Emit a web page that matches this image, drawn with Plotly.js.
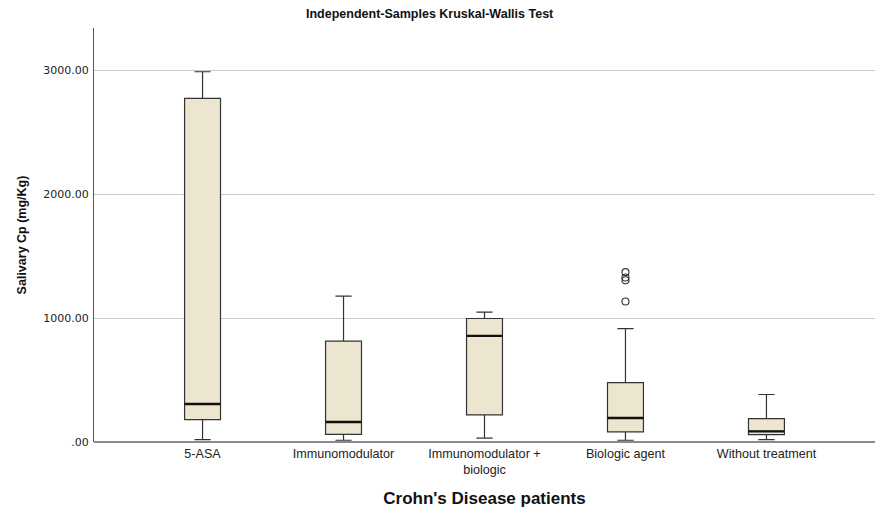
<!DOCTYPE html>
<html>
<head>
<meta charset="utf-8">
<script src="https://cdn.plot.ly/plotly-3.0.1.min.js"></script>
<style>html,body{margin:0;padding:0;background:#fff;}#chart{width:875px;height:517px;}</style>
</head>
<body>
<div id="chart"></div>
<script>
const categories = ["5-ASA", "Immunomodulator", "Immunomodulator +<br>biologic", "Biologic agent", "Without treatment"];
const lowerWhisker = [19, 14, 32, 14, 19];
const q1Values = [181, 62, 218, 81, 60];
const medianValues = [307, 161, 856, 194, 86];
const q3Values = [2772, 813, 996, 479, 189];
const upperWhisker = [2986, 1176, 1047, 915, 383];
const outlierGroup = [3, 3, 3, 3];
const outlierValues = [1370, 1327, 1305, 1133];
const yTickValues = [0, 1000, 2000, 3000];
const yTickLabels = [".00", "1000.00", "2000.00", "3000.00"];

const positions = categories.map((c, i) => i);
const boxWidth = 0.255;
const fontFam = '"Liberation Sans", Arial, Helvetica, sans-serif';
const tickFam = '"DejaVu Sans", Verdana, sans-serif';

const boxTrace = {
  type: 'box',
  x: positions,
  q1: q1Values,
  median: medianValues,
  q3: q3Values,
  lowerfence: lowerWhisker,
  upperfence: upperWhisker,
  width: boxWidth,
  whiskerwidth: 0.45,
  boxpoints: false,
  fillcolor: '#ECE5D0',
  line: {color: '#333333', width: 1.2},
  hoverinfo: 'skip',
  showlegend: false
};

const mx = [], my = [];
positions.forEach((p, i) => {
  mx.push(p - boxWidth / 2, p + boxWidth / 2, null);
  my.push(medianValues[i], medianValues[i], null);
});
const medianTrace = {
  type: 'scatter', mode: 'lines', x: mx, y: my,
  line: {color: '#111111', width: 2.4},
  hoverinfo: 'skip', showlegend: false
};

const outlierTrace = {
  type: 'scatter', mode: 'markers',
  x: outlierGroup, y: outlierValues,
  marker: {symbol: 'circle-open', size: 7, color: '#333333', line: {width: 1.1, color: '#333333'}},
  hoverinfo: 'skip', showlegend: false
};

const layout = {
  width: 875, height: 517,
  margin: {l: 94, r: 0, t: 28, b: 75},
  paper_bgcolor: '#ffffff', plot_bgcolor: '#ffffff',
  font: {family: fontFam, color: '#222222', size: 11},
  title: {
    text: '<b>Independent-Samples Kruskal-Wallis Test</b>',
    font: {family: fontFam, size: 12.5, color: '#111111'},
    x: 0.491, xref: 'container', xanchor: 'center',
    y: 0.973, yref: 'container', yanchor: 'middle'
  },
  xaxis: {
    range: [-0.77, 4.77],
    tickvals: positions, ticktext: categories,
    showgrid: false, zeroline: false,
    showline: false,
    ticks: '', ticklabelstandoff: 2,
    tickfont: {family: fontFam, size: 12.6, color: '#222222'},
    title: {text: "<b>Crohn's Disease patients</b>", font: {family: fontFam, size: 17, color: '#111111'}, standoff: 16}
  },
  yaxis: {
    range: [0, 3339],
    tickvals: yTickValues, ticktext: yTickLabels,
    showgrid: true, gridcolor: '#c8c8c8', gridwidth: 1,
    zeroline: true, zerolinecolor: '#8a8a8a', zerolinewidth: 1.6,
    showline: true, linecolor: '#555555', linewidth: 1,
    ticks: '', ticklabelstandoff: 2,
    tickfont: {family: tickFam, size: 11, color: '#222222'},
    title: {text: '<b>Salivary Cp (mg/Kg)</b>', font: {family: fontFam, size: 12.5, color: '#111111'}, standoff: 13}
  }
};

Plotly.newPlot('chart', [boxTrace, medianTrace, outlierTrace], layout, {staticPlot: true, displayModeBar: false});
</script>
</body>
</html>
